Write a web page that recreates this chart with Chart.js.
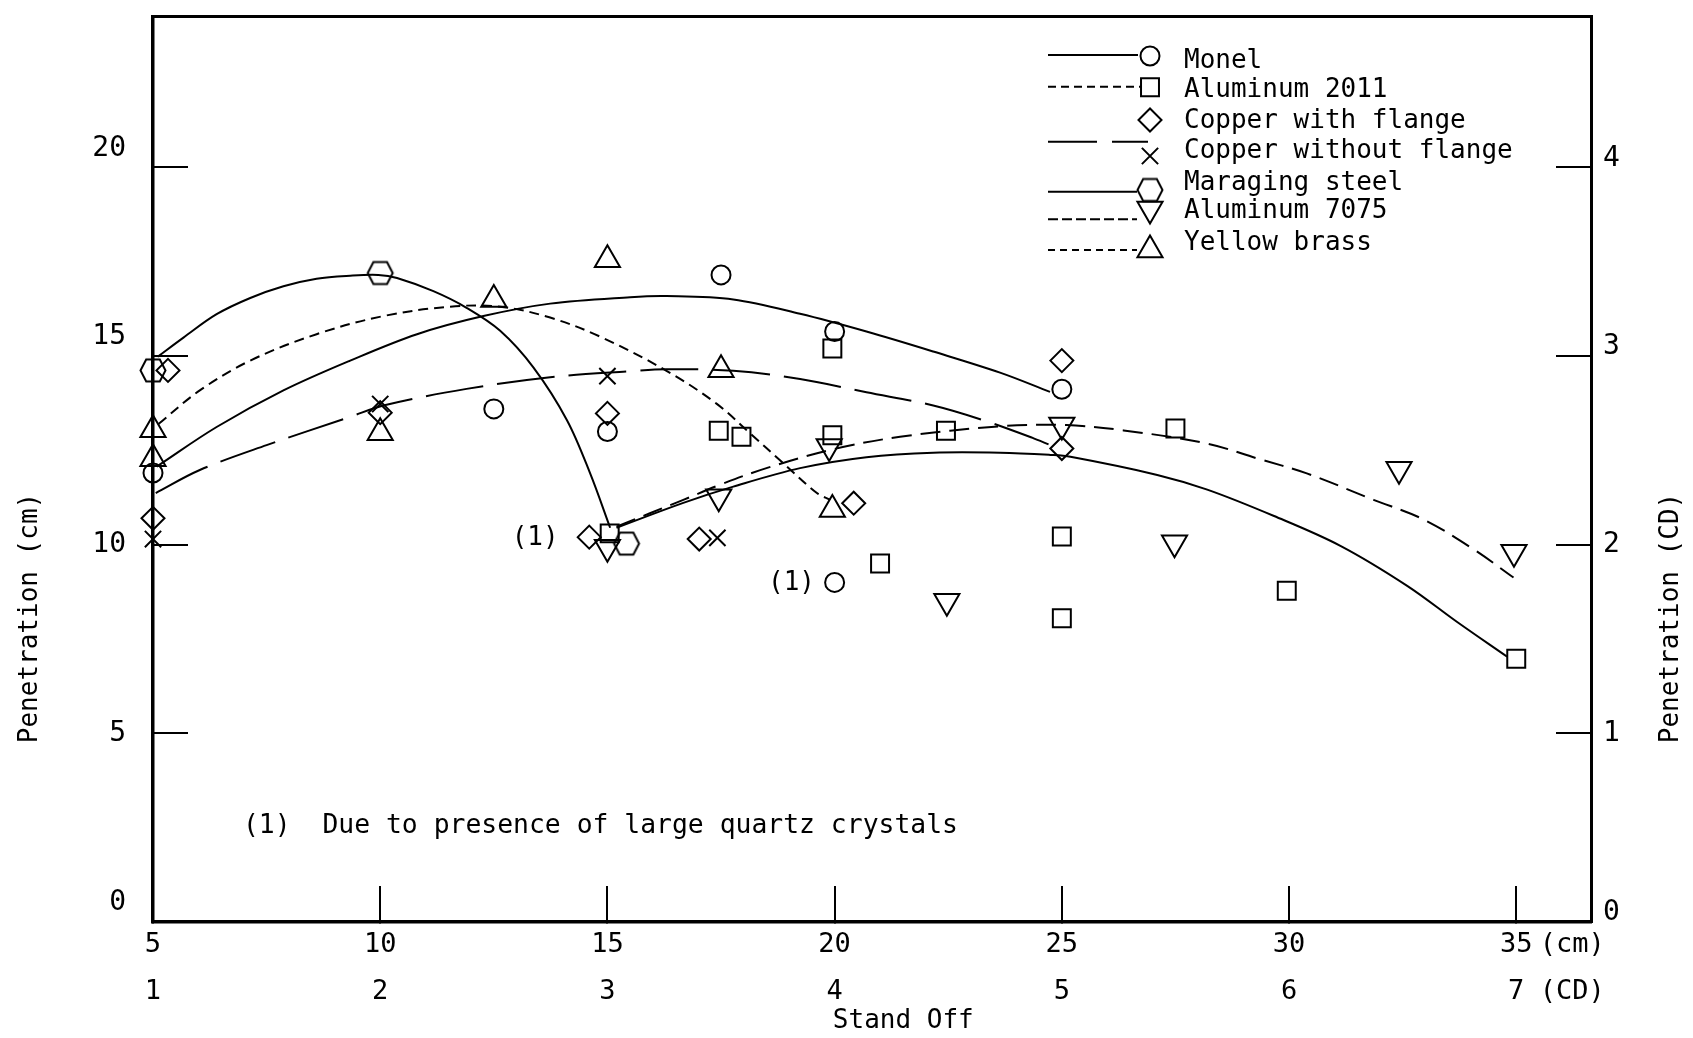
<!DOCTYPE html>
<html>
<head>
<meta charset="utf-8">
<script src="https://cdn.jsdelivr.net/npm/chart.js@4.4.1/dist/chart.umd.min.js"></script>
<style>
  html, body { margin: 0; padding: 0; background: #fff; overflow: hidden; }
  #wrap { width: 1693px; height: 1038px; }
</style>
</head>
<body>
<div id="wrap"><canvas id="c" width="1693" height="1038"></canvas></div>
<script>
// ---------------- DATA (stand off in cm, penetration in cm) ----------------
const seriesNames = ['Monel', 'Aluminum 2011', 'Copper with flange', 'Copper without flange',
                     'Maraging steel', 'Aluminum 7075', 'Yellow brass'];

const monel          = [[5, 11.9], [12.5, 13.6], [15, 13.0], [17.5, 17.15], [20, 15.65], [20, 9.0], [25, 14.12]];
const aluminum2011   = [[15.05, 10.3], [17.45, 13.02], [17.95, 12.86], [19.95, 15.2], [19.95, 12.9], [21, 9.5],
                        [22.45, 13.02], [25, 10.22], [25, 8.05], [27.5, 13.08], [29.95, 8.78], [35, 6.98]];
const copperFlange   = [[5.33, 14.62], [5, 10.7], [10, 13.5], [14.6, 10.2], [15, 13.48], [17.02, 10.15],
                        [20.42, 11.1], [25, 14.88], [25, 12.55]];
const copperNoFlange = [[5, 10.15], [10, 13.73], [15, 14.47], [17.42, 10.18]];
const maraging       = [[5, 14.62], [10, 17.2], [15.42, 10.03]];
const aluminum7075   = [[15, 9.93], [17.45, 11.27], [19.88, 12.6], [22.47, 8.5], [25, 13.17], [27.48, 10.05],
                        [32.42, 12.0], [34.95, 9.8]];
const yellowBrass    = [[5, 13.05], [5, 12.28], [10, 12.97], [12.5, 16.5], [15, 17.55], [17.5, 14.64], [19.95, 10.93]];

// fitted curves
const curveMaraging = [[5.1, 14.98], [5.67, 15.49], [6.4, 16.11], [7.14, 16.54], [7.87, 16.85], [8.6, 17.05],
                       [9.34, 17.13], [9.96, 17.15], [10.37, 17.07], [11.17, 16.72], [11.9, 16.28], [12.64, 15.67],
                       [13.37, 14.7], [14.11, 13.3], [14.62, 11.89], [15.06, 10.45]];
const curveYellowBrass = [[5.12, 13.2], [6.03, 14.09], [7.14, 14.88], [8.6, 15.58], [10.07, 16.06], [11.54, 16.31],
                          [12.64, 16.31], [13.74, 16.02], [14.83, 15.52], [16.3, 14.61], [17.4, 13.74],
                          [18.14, 12.95], [18.87, 12.16], [19.61, 11.37], [19.9, 11.19]];
const curveMonel = [[5.08, 12.07], [6.4, 13.12], [7.87, 14.09], [9.34, 14.88], [10.81, 15.58], [12.27, 16.06],
                    [13.74, 16.39], [15.5, 16.56], [16.3, 16.59], [17.77, 16.5], [19.24, 16.12], [20.7, 15.65],
                    [22.17, 15.12], [23.64, 14.56], [24.74, 14.05]];
const curveCopper = [[5.06, 11.37], [6.03, 11.98], [7.5, 12.64], [9.34, 13.39], [10.07, 13.69], [11.9, 14.13],
                     [13.74, 14.44], [15.5, 14.6], [16.3, 14.65], [17.77, 14.61], [19.24, 14.39], [20.7, 14.04],
                     [22.17, 13.69], [23.27, 13.3], [24.38, 12.82], [24.93, 12.55]];
const curveAl2011 = [[15.2, 10.45], [16.67, 11.11], [17.77, 11.54], [19.24, 12.03], [20.7, 12.32], [22.17, 12.44],
                     [23.64, 12.44], [24.74, 12.38], [25.19, 12.33], [27.1, 11.85], [28.2, 11.46], [29.67, 10.76],
                     [31.13, 9.97], [32.6, 8.91], [33.7, 7.95], [34.8, 7.03]];
const curveAl7075 = [[15.2, 10.48], [16.67, 11.19], [17.48, 11.59], [18.5, 12.03], [19.97, 12.53], [21.44, 12.86],
                     [23.64, 13.14], [25.1, 13.17], [26.36, 13.03], [28.2, 12.68], [29.29, 12.29], [30.39, 11.89],
                     [31.86, 11.19], [32.96, 10.67], [34.06, 9.88], [34.94, 9.13]];

// tick labels
const yTicksCm = [0, 5, 10, 15, 20];
const yTicksCD = [0, 1, 2, 3, 4];
const xTicksCm = [5, 10, 15, 20, 25, 30, 35];
const xTicksCD = [1, 2, 3, 4, 5, 6, 7];
const xUnitCm = '(cm)';
const xUnitCD = '(CD)';
const xUnitCmAt = 36.23;
const xUnitCDAt = 7.246;

// texts
const yTitleLeft = 'Penetration (cm)';
const yTitleRight = 'Penetration (CD)';
const xTitle = 'Stand Off';
const noteMarks = [[13.41, 10.17], [19.05, 8.98]];
const noteText = '(1)  Due to presence of large quartz crystals';
const notePos = [6.98, 2.55];

// ---------------- STYLES ----------------
const FONT = '"DejaVu Sans Mono", monospace';
const INK = '#000';

function hexCanvas() {
  const c = document.createElement('canvas');
  c.width = 30; c.height = 27;
  const g = c.getContext('2d');
  g.strokeStyle = INK; g.lineWidth = 2;
  const cx = 15, cy = 13.5, a = 12.5, f = 6.8, b = 11;
  g.beginPath();
  g.moveTo(cx - a, cy); g.lineTo(cx - f, cy - b); g.lineTo(cx + f, cy - b);
  g.lineTo(cx + a, cy); g.lineTo(cx + f, cy + b); g.lineTo(cx - f, cy + b);
  g.closePath(); g.stroke();
  return c;
}
const HEX = hexCanvas();

const markerStyles = [
  { pointStyle: 'circle',   radius: 9.5,  rotation: 0 },
  { pointStyle: 'rect',     radius: 12.7, rotation: 0 },
  { pointStyle: 'rectRot',  radius: 11.5, rotation: 0 },
  { pointStyle: 'crossRot', radius: 11.5, rotation: 0 },
  { pointStyle: HEX,        radius: 12,   rotation: 0 },
  { pointStyle: 'triangle', radius: 14.5, rotation: 180 },
  { pointStyle: 'triangle', radius: 14.5, rotation: 0 }
];
const markerData = [monel, aluminum2011, copperFlange, copperNoFlange, maraging, aluminum7075, yellowBrass];

const pts = a => a.map(([x, y]) => ({ x, y }));

const datasets = [];
const curves = [
  { name: 'Maraging steel curve', d: curveMaraging, dash: [] },
  { name: 'Yellow brass curve',   d: curveYellowBrass, dash: [10, 6] },
  { name: 'Monel curve',          d: curveMonel, dash: [] },
  { name: 'Copper curve',         d: curveCopper, dash: [58, 14] },
  { name: 'Aluminum 2011 curve',  d: curveAl2011, dash: [] },
  { name: 'Aluminum 7075 curve',  d: curveAl7075, dash: [20, 9] }
];
curves.forEach(c => datasets.push({
  type: 'line', label: c.name, data: pts(c.d), xAxisID: 'x', yAxisID: 'y',
  borderColor: INK, borderWidth: 2, borderDash: c.dash, pointRadius: 0,
  tension: 0.35, fill: false, clip: false
}));
markerData.forEach((d, i) => datasets.push({
  type: 'scatter', label: seriesNames[i], data: pts(d), xAxisID: 'x', yAxisID: 'y',
  showLine: false, pointStyle: markerStyles[i].pointStyle, pointRadius: markerStyles[i].radius,
  pointRotation: markerStyles[i].rotation, pointBorderWidth: 2, pointBorderColor: INK,
  pointBackgroundColor: 'rgba(0,0,0,0)', clip: false
}));

const hideExtra = lim => ctx => (ctx.tick && ctx.tick.value > lim ? 'rgba(0,0,0,0)' : INK);
const fixSize = (prop, v) => s => {
  s[prop] = v;
  s.paddingTop = 0; s.paddingBottom = 0; s.paddingLeft = 0; s.paddingRight = 0;
};

// ---------------- EXTRA DRAWING (titles, notes, legend) ----------------
const extras = {
  id: 'extras',
  afterDraw(chart) {
    const ctx = chart.ctx;
    const xs = chart.scales.x, ys = chart.scales.y;
    ctx.save();
    ctx.fillStyle = INK;
    ctx.strokeStyle = INK;
    ctx.font = '26px ' + FONT;
    ctx.textBaseline = 'middle';

    // vertical axis titles (both read bottom to top)
    [[yTitleLeft, 30], [yTitleRight, 1671]].forEach(([t, x]) => {
      ctx.save();
      ctx.translate(x, 618);
      ctx.rotate(-Math.PI / 2);
      ctx.textAlign = 'center';
      ctx.fillText(t, 0, 0);
      ctx.restore();
    });

    // "(1)" marks and footnote
    ctx.textAlign = 'center';
    noteMarks.forEach(([x, y]) => ctx.fillText('(1)', xs.getPixelForValue(x), ys.getPixelForValue(y)));
    ctx.textAlign = 'left';
    ctx.font = '26.4px ' + FONT;
    ctx.fillText(noteText, xs.getPixelForValue(notePos[0]), ys.getPixelForValue(notePos[1]));
    ctx.font = '26px ' + FONT;

    // legend
    const textY = [61.7, 90, 121.7, 151.7, 183.3, 211.7, 243.3];
    const markY = [56, 87.3, 120, 156, 190, 209, 250];
    const lines = [
      { y: 55,    x0: 1048, x1: 1138, dash: [] },
      { y: 86.7,  x0: 1048, x1: 1141, dash: [8, 5] },
      null,
      null,
      { y: 191.7, x0: 1048, x1: 1137, dash: [] },
      { y: 219.3, x0: 1048, x1: 1137, dash: [10, 4] },
      { y: 250,   x0: 1048, x1: 1137, dash: [7, 5] }
    ];
    ctx.lineWidth = 2;
    lines.forEach(l => {
      if (!l) return;
      ctx.setLineDash(l.dash);
      ctx.beginPath(); ctx.moveTo(l.x0, l.y); ctx.lineTo(l.x1, l.y); ctx.stroke();
    });
    ctx.setLineDash([]);
    // shared long-dash sample for the two copper entries
    ctx.beginPath(); ctx.moveTo(1048, 141.7); ctx.lineTo(1097, 141.7);
    ctx.moveTo(1112, 141.7); ctx.lineTo(1148, 141.7); ctx.stroke();

    seriesNames.forEach((n, i) => {
      ctx.fillStyle = INK;
      ctx.textAlign = 'left';
      ctx.fillText(n, 1184, textY[i]);
      const st = markerStyles[i];
      ctx.fillStyle = 'rgba(0,0,0,0)';
      ctx.strokeStyle = INK;
      ctx.lineWidth = 2;
      if (Chart.helpers && Chart.helpers.drawPoint) {
        Chart.helpers.drawPoint(ctx, { pointStyle: st.pointStyle, rotation: st.rotation, radius: st.radius, borderWidth: 2 }, 1150, markY[i]);
      }
    });
    ctx.restore();
  }
};

// ---------------- CHART ----------------
new Chart(document.getElementById('c'), {
  type: 'scatter',
  data: { datasets },
  options: {
    responsive: false,
    animation: false,
    devicePixelRatio: 1,
    events: [],
    layout: { padding: { top: 10, left: 0, right: 0, bottom: 0 } },
    plugins: { legend: { display: false }, tooltip: { enabled: false } },
    scales: {
      x: {
        type: 'linear', position: 'bottom', weight: 0, min: 5, max: 36.645,
        afterBuildTicks: s => { s.ticks = xTicksCm.concat([xUnitCmAt]).map(v => ({ value: v })); },
        afterFit: fixSize('height', 46),
        grid: { drawOnChartArea: false, drawTicks: true, tickLength: -36, lineWidth: 2,
                color: hideExtra(35.5), tickColor: hideExtra(35.5) },
        border: { display: true, color: INK, width: 3.5 },
        ticks: { autoSkip: false, maxRotation: 0, minRotation: 0, padding: 43, color: INK,
                 font: { family: FONT, size: 27, lineHeight: 1.2 },
                 callback: v => (v > 35.5 ? xUnitCm : String(v)) }
      },
      x2: {
        type: 'linear', position: 'bottom', weight: 1, min: 1, max: 7.329,
        afterBuildTicks: s => { s.ticks = xTicksCD.concat([xUnitCDAt]).map(v => ({ value: v })); },
        afterFit: fixSize('height', 70),
        grid: { display: false, drawTicks: false, drawOnChartArea: false },
        border: { display: false },
        ticks: { autoSkip: false, maxRotation: 0, minRotation: 0, padding: 8, color: INK,
                 font: { family: FONT, size: 27, lineHeight: 1.2 },
                 callback: v => (v > 7.1 ? xUnitCD : String(v)) },
        title: { display: true, text: '    ' + xTitle, color: INK, padding: { top: 0, bottom: 1 },
                 font: { family: FONT, size: 26, lineHeight: 1.2 } }
      },
      xTop: {
        type: 'linear', position: 'top', min: 5, max: 36.645,
        afterFit: fixSize('height', 0),
        ticks: { display: false },
        grid: { display: false, drawTicks: false, drawOnChartArea: false },
        border: { display: true, color: INK, width: 3 }
      },
      y: {
        type: 'linear', position: 'left', min: 0, max: 24,
        afterBuildTicks: s => { s.ticks = yTicksCm.map(v => ({ value: v })); },
        afterFit: fixSize('width', 153),
        grid: { drawOnChartArea: false, drawTicks: true, tickLength: -35, lineWidth: 2, color: INK },
        border: { display: true, color: INK, width: 3.5 },
        ticks: { padding: 62, color: INK, font: { family: FONT, size: 28, lineHeight: 1.36 },
                 callback: v => (v === 0 || v >= 15 ? [String(v), ''] : String(v)) }
      },
      y2: {
        type: 'linear', position: 'right', min: 0, max: 4.8,
        afterBuildTicks: s => { s.ticks = yTicksCD.map(v => ({ value: v })); },
        afterFit: fixSize('width', 102),
        grid: { drawOnChartArea: false, drawTicks: true, tickLength: -35, lineWidth: 2, color: INK },
        border: { display: true, color: INK, width: 3 },
        ticks: { padding: 47, color: INK, font: { family: FONT, size: 28, lineHeight: 0.64 },
                 callback: v => (v === 0 || v >= 3 ? [String(v), ''] : String(v)) }
      }
    }
  },
  plugins: [extras]
});
</script>
</body>
</html>
